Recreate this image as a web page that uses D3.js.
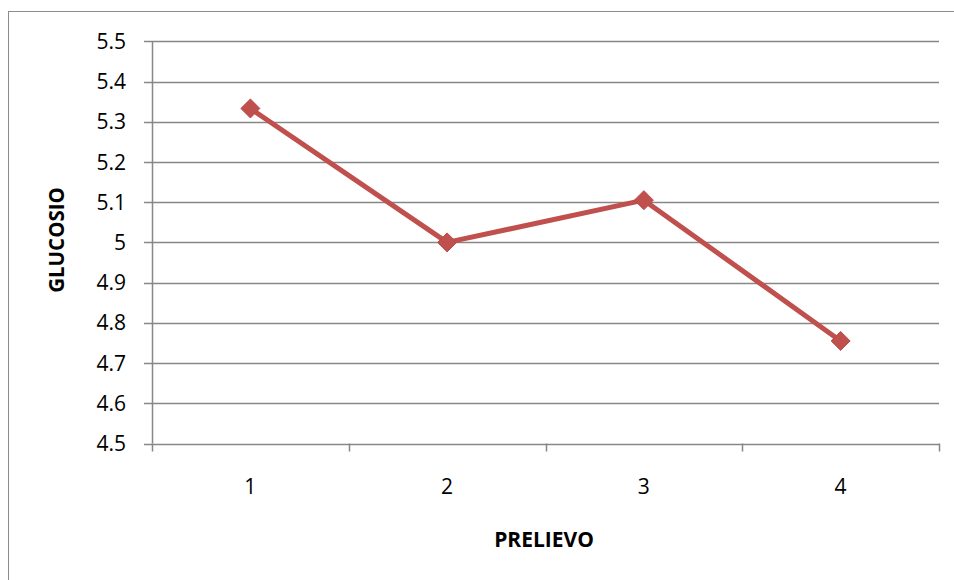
<!DOCTYPE html>
<html><head><meta charset="utf-8">
<script src="https://cdn.jsdelivr.net/npm/d3@7"></script>
<style>body{margin:0;background:#fff}svg{display:block}</style>
</head><body>
<script>
const categories = ["1","2","3","4"];
const values = [5.333, 5.0, 5.105, 4.755];
const yTicks = [4.5,4.6,4.7,4.8,4.9,5.0,5.1,5.2,5.3,5.4,5.5];
const xTitle = "PRELIEVO";
const yTitle = "GLUCOSIO";

(function(){
const W=954,H=580;
const svg=d3.select("body").append("svg").attr("width",W).attr("height",H);
svg.append("rect").attr("x",8.5).attr("y",11.5).attr("width",W).attr("height",H).attr("fill","#fff").attr("stroke","#8c8c8c").attr("stroke-width",1);

const pl=152, pr=939, pt=41.3, pb=443.5;
const x=d3.scaleBand().domain(categories).range([pl,pr]);
const y=d3.scaleLinear().domain([4.5,5.5]).range([pb,pt]);
const grid="#878787";
const font="'Open Sans', sans-serif";

svg.append("g").selectAll("line").data(yTicks).join("line")
 .attr("x1",pl-8).attr("x2",pr).attr("y1",d=>Math.round(y(d))+0.5).attr("y2",d=>Math.round(y(d))+0.5)
 .attr("stroke",grid).attr("stroke-width",1.5);
svg.append("line").attr("x1",pl+0.5).attr("x2",pl+0.5).attr("y1",pt).attr("y2",pb).attr("stroke",grid).attr("stroke-width",1.5);
svg.append("g").selectAll("text").data(yTicks).join("text")
 .attr("x",126).attr("y",d=>y(d)).attr("dy","0.36em").attr("text-anchor","end")
 .attr("font-family",font).attr("font-size",21).attr("fill","#000")
 .text(d=>d===5?"5":d3.format(".1f")(d));
const bounds=categories.map(c=>x(c)).concat([pr]);
svg.append("g").selectAll("line").data(bounds).join("line")
 .attr("x1",d=>Math.round(d)+0.5).attr("x2",d=>Math.round(d)+0.5).attr("y1",pb).attr("y2",pb+8)
 .attr("stroke",grid).attr("stroke-width",1.5);
svg.append("g").selectAll("text").data(categories).join("text")
 .attr("x",d=>x(d)+x.bandwidth()/2).attr("y",494).attr("text-anchor","middle")
 .attr("font-family",font).attr("font-size",21).attr("fill","#000").text(d=>d);

svg.append("text").attr("x",544).attr("y",547).attr("text-anchor","middle")
 .attr("font-family",font).attr("font-weight","bold").attr("font-size",21).text(xTitle);
svg.append("text").attr("transform","translate(64,240) rotate(-90)").attr("text-anchor","middle")
 .attr("font-family",font).attr("font-weight","bold").attr("font-size",20.5).text(yTitle);

const cx=(d,i)=>x(categories[i])+x.bandwidth()/2;
svg.append("path").datum(values)
 .attr("d",d3.line().x(cx).y(d=>y(d)))
 .attr("fill","none").attr("stroke","#C0504D").attr("stroke-width",5).attr("stroke-linejoin","round");
svg.append("g").selectAll("path").data(values).join("path")
 .attr("transform",(d,i)=>`translate(${cx(d,i)},${y(d)})`)
 .attr("d",d3.symbol().type(d3.symbolDiamond2).size(230))
 .attr("fill","#C0504D").attr("stroke","#B84B48").attr("stroke-width",1);
})();
</script>
</body></html>
